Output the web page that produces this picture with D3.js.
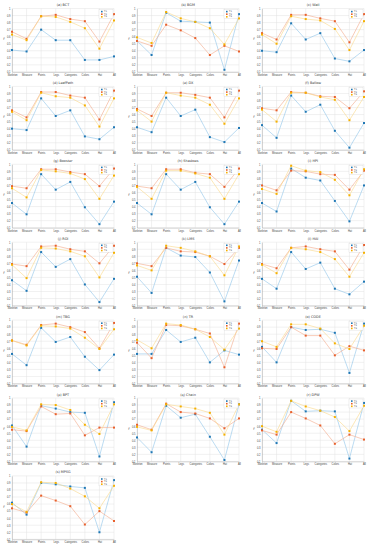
<!DOCTYPE html>
<html>
<head>
<meta charset="utf-8">
<script src="https://cdn.jsdelivr.net/npm/d3@7"></script>
<style>
  body { margin: 0; background: #fff; }
  svg { display: block; font-family: "DejaVu Sans", sans-serif; }
</style>
</head>
<body>
<div id="chart"></div>
<script>
const categories = ["Skeleton", "Measure", "Points", "Legs", "Categories", "Colors", "Hat", "All"];
const seriesNames = ["T1", "T2", "T3"];
const titles = ["(a) BCT", "(b) BGM", "(c) Wall", "(d) LeafPath", "(e) DX", "(f) Bellow",
  "(g) Booster", "(h) Shadows", "(i) HPI", "(j) ROI", "(k) LMS", "(l) HAI",
  "(m) TBG", "(n) TR", "(o) CODE", "(p) BPT", "(q) Chain", "(r) DPW", "(s) MPSG"];
const yTicks = [0.1, 0.2, 0.3, 0.4, 0.5, 0.6, 0.7, 0.8, 0.9, 1.0];

// blue series, one row per panel
const blueVals = [
  [0.41, 0.39, 0.70, 0.55, 0.55, 0.27, 0.27, 0.32],
  [0.54, 0.34, 0.94, 0.82, 0.81, 0.80, 0.13, 0.92],
  [0.40, 0.38, 0.79, 0.56, 0.65, 0.29, 0.25, 0.41],
  [0.40, 0.38, 0.83, 0.58, 0.66, 0.29, 0.25, 0.42],
  [0.42, 0.35, 0.84, 0.58, 0.67, 0.28, 0.21, 0.41],
  [0.45, 0.27, 0.87, 0.64, 0.74, 0.37, 0.13, 0.48],
  [0.45, 0.29, 0.86, 0.64, 0.75, 0.39, 0.15, 0.47],
  [0.45, 0.29, 0.86, 0.64, 0.75, 0.39, 0.15, 0.47],
  [0.45, 0.33, 0.94, 0.81, 0.77, 0.48, 0.19, 0.70],
  [0.46, 0.31, 0.86, 0.65, 0.76, 0.40, 0.15, 0.48],
  [0.51, 0.28, 0.92, 0.81, 0.79, 0.57, 0.16, 0.74],
  [0.48, 0.34, 0.86, 0.62, 0.71, 0.34, 0.26, 0.44],
  [0.52, 0.36, 0.89, 0.69, 0.76, 0.48, 0.29, 0.51],
  [0.52, 0.52, 0.86, 0.69, 0.75, 0.40, 0.57, 0.51],
  [0.62, 0.40, 0.90, 0.86, 0.87, 0.82, 0.25, 0.95],
  [0.61, 0.31, 0.89, 0.85, 0.80, 0.79, 0.17, 0.94],
  [0.44, 0.23, 0.89, 0.72, 0.77, 0.45, 0.12, 0.91],
  [0.55, 0.36, 0.96, 0.81, 0.82, 0.81, 0.14, 0.93],
  [0.62, 0.45, 0.90, 0.88, 0.85, 0.83, 0.20, 0.94]
];

// orange series
const orangeVals = [
  [0.67, 0.57, 0.89, 0.91, 0.85, 0.82, 0.53, 0.92],
  [0.54, 0.47, 0.77, 0.69, 0.58, 0.34, 0.47, 0.39],
  [0.65, 0.56, 0.91, 0.91, 0.86, 0.82, 0.52, 0.92],
  [0.66, 0.56, 0.92, 0.92, 0.87, 0.84, 0.53, 0.94],
  [0.68, 0.58, 0.91, 0.91, 0.88, 0.84, 0.56, 0.94],
  [0.69, 0.66, 0.92, 0.91, 0.86, 0.85, 0.69, 0.93],
  [0.69, 0.66, 0.93, 0.93, 0.89, 0.86, 0.69, 0.94],
  [0.69, 0.66, 0.93, 0.93, 0.88, 0.86, 0.68, 0.94],
  [0.70, 0.63, 0.91, 0.90, 0.86, 0.85, 0.64, 0.91],
  [0.69, 0.66, 0.94, 0.95, 0.90, 0.87, 0.70, 0.95],
  [0.70, 0.66, 0.92, 0.87, 0.86, 0.80, 0.69, 0.92],
  [0.69, 0.63, 0.92, 0.94, 0.90, 0.87, 0.61, 0.96],
  [0.71, 0.65, 0.93, 0.95, 0.90, 0.83, 0.60, 0.96],
  [0.68, 0.46, 0.93, 0.92, 0.87, 0.81, 0.33, 0.95],
  [0.60, 0.59, 0.90, 0.78, 0.78, 0.50, 0.63, 0.57],
  [0.55, 0.53, 0.88, 0.77, 0.78, 0.47, 0.58, 0.58],
  [0.62, 0.55, 0.92, 0.80, 0.78, 0.71, 0.57, 0.71],
  [0.54, 0.48, 0.80, 0.71, 0.61, 0.35, 0.48, 0.41],
  [0.54, 0.48, 0.72, 0.65, 0.57, 0.31, 0.50, 0.36]
];

// yellow series
const yellowVals = [
  [0.63, 0.55, 0.89, 0.88, 0.81, 0.72, 0.43, 0.83],
  [0.59, 0.51, 0.95, 0.86, 0.81, 0.72, 0.49, 0.86],
  [0.63, 0.50, 0.89, 0.85, 0.83, 0.71, 0.41, 0.82],
  [0.64, 0.52, 0.91, 0.86, 0.84, 0.73, 0.43, 0.83],
  [0.66, 0.50, 0.91, 0.87, 0.84, 0.74, 0.47, 0.83],
  [0.67, 0.50, 0.91, 0.91, 0.85, 0.81, 0.52, 0.85],
  [0.66, 0.53, 0.92, 0.90, 0.87, 0.79, 0.51, 0.84],
  [0.68, 0.51, 0.91, 0.91, 0.87, 0.81, 0.51, 0.86],
  [0.65, 0.58, 0.98, 0.91, 0.89, 0.78, 0.56, 0.93],
  [0.68, 0.49, 0.92, 0.91, 0.87, 0.80, 0.50, 0.85],
  [0.67, 0.60, 0.95, 0.92, 0.87, 0.80, 0.53, 0.94],
  [0.68, 0.56, 0.92, 0.90, 0.86, 0.76, 0.51, 0.85],
  [0.71, 0.64, 0.92, 0.91, 0.88, 0.75, 0.59, 0.87],
  [0.72, 0.60, 0.95, 0.93, 0.87, 0.76, 0.58, 0.88],
  [0.70, 0.62, 0.94, 0.94, 0.88, 0.67, 0.59, 0.92],
  [0.59, 0.54, 0.91, 0.90, 0.83, 0.62, 0.49, 0.91],
  [0.59, 0.54, 0.91, 0.88, 0.85, 0.79, 0.48, 0.91],
  [0.60, 0.52, 0.96, 0.88, 0.82, 0.73, 0.53, 0.89],
  [0.60, 0.49, 0.91, 0.90, 0.82, 0.71, 0.54, 0.86]
];

const colors = ["#1f77b4", "#e8602c", "#f5b000"];
const lineColors = ["#8ec5ea", "#f4a98a", "#fad98a"];

const W = 375, H = 550;
const colW = 125, rowH = 77.9;
const m = { left: 12, right: 11, top: 8.5, bottom: 6 };

const svg = d3.select("#chart").append("svg")
  .attr("width", W)
  .attr("height", H);

titles.forEach((title, p) => {
  const col = p % 3, row = Math.floor(p / 3);
  const g = svg.append("g")
    .attr("transform", `translate(${col * colW},${row * rowH})`);

  const x = d3.scalePoint().domain(categories).range([m.left, colW - m.right]);
  const y = d3.scaleLinear().domain([0.1, 1.0]).range([rowH - m.bottom, m.top]);

  // grid
  g.append("g").selectAll("line.h")
    .data(yTicks).enter().append("line")
    .attr("x1", m.left).attr("x2", colW - m.right)
    .attr("y1", d => y(d)).attr("y2", d => y(d))
    .attr("stroke", "#e3e3e3").attr("stroke-width", 0.5);
  g.append("g").selectAll("line.v")
    .data(categories).enter().append("line")
    .attr("x1", d => x(d)).attr("x2", d => x(d))
    .attr("y1", y(1.0)).attr("y2", y(0.1))
    .attr("stroke", "#e3e3e3").attr("stroke-width", 0.5);

  // axes
  const xAxis = g.append("g")
    .attr("transform", `translate(0,${y(0.1)})`)
    .call(d3.axisBottom(x).tickSize(0).tickPadding(2));
  xAxis.select(".domain").attr("stroke", "#999").attr("stroke-width", 0.4);
  xAxis.selectAll("text").attr("font-size", 2.6).attr("fill", "#444");

  const yAxis = g.append("g")
    .attr("transform", `translate(${m.left},0)`)
    .call(d3.axisLeft(y).tickValues(yTicks).tickSize(0).tickPadding(1.5)
      .tickFormat(d => d === 1 ? "1" : d.toFixed(1)));
  yAxis.select(".domain").attr("stroke", "#999").attr("stroke-width", 0.4);
  yAxis.selectAll("text").attr("font-size", 2.6).attr("fill", "#444");

  g.append("text")
    .attr("x", 4).attr("y", (y(0.1) + y(1.0)) / 2)
    .attr("font-size", 3).attr("fill", "#444")
    .attr("text-anchor", "middle")
    .text("F");

  g.append("text")
    .attr("x", (m.left + colW - m.right) / 2).attr("y", 6)
    .attr("font-size", 3.4).attr("fill", "#333")
    .attr("text-anchor", "middle")
    .text(title);

  const allSeries = [blueVals[p], orangeVals[p], yellowVals[p]];
  const line = d3.line().x((d, i) => x(categories[i])).y(d => y(d));

  allSeries.forEach((vals, s) => {
    g.append("path")
      .datum(vals)
      .attr("d", line)
      .attr("fill", "none")
      .attr("stroke", lineColors[s])
      .attr("stroke-width", 0.6);
    g.selectAll(".mk" + s)
      .data(vals).enter().append("rect")
      .attr("class", "mk" + s)
      .attr("x", (d, i) => x(categories[i]) - 1)
      .attr("y", d => y(d) - 1)
      .attr("width", 2).attr("height", 2)
      .attr("fill", colors[s]);
  });

  // legend
  const lg = g.append("g").attr("transform", `translate(${colW - m.right - 15},${m.top + 1})`);
  lg.append("rect").attr("width", 14).attr("height", 9)
    .attr("fill", "#fff").attr("stroke", "#ccc").attr("stroke-width", 0.3);
  seriesNames.forEach((name, s) => {
    lg.append("rect").attr("x", 2).attr("y", 1.3 + s * 2.6)
      .attr("width", 1.6).attr("height", 1.6).attr("fill", colors[s]);
    lg.append("text").attr("x", 5).attr("y", 2.7 + s * 2.6)
      .attr("font-size", 2.3).attr("fill", "#444").text(name);
  });
});
</script>
</body>
</html>
